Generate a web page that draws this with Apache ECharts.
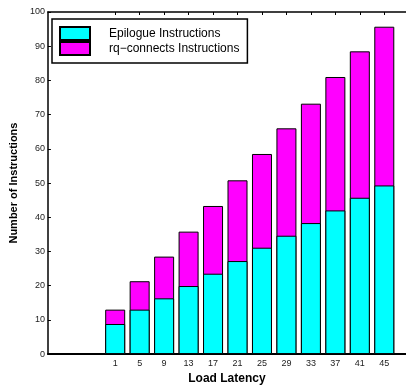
<!DOCTYPE html>
<html>
<head>
<meta charset="utf-8">
<script src="https://cdn.jsdelivr.net/npm/echarts@6/dist/echarts.min.js"></script>
<style>html,body{margin:0;padding:0;background:#fff}#c{width:406px;height:390px}</style>
</head>
<body>
<div id="c"></div>
<script>
const latencies = [1, 5, 9, 13, 17, 21, 25, 29, 33, 37, 41, 45];
const epilogue = [8.8, 13.0, 16.3, 19.9, 23.5, 27.2, 31.1, 34.6, 38.3, 42.0, 45.7, 49.3];
const rqConnects = [4.2, 8.3, 12.2, 15.9, 19.8, 23.6, 27.4, 31.4, 34.9, 39.0, 42.8, 46.4];
const yTicks = [0, 10, 20, 30, 40, 50, 60, 70, 80, 90, 100];

const FONT = 'Liberation Sans, Arial, Helvetica, sans-serif';
const chart = echarts.init(document.getElementById('c'), null, {renderer: 'canvas'});
const pair = (vals) => latencies.map((x, i) => [x, vals[i]]);
// stacked top of the rq-connects segment = epilogue + rq-connects
const stackedTop = epilogue.map((v, i) => v + rqConnects[i]);

chart.setOption({
  animation: false,
  backgroundColor: '#fff',
  grid: {left: 43, top: 12, right: 0, bottom: 33},
  legend: {
    orient: 'vertical', left: 52, top: 19,
    itemGap: 0, itemWidth: 30, itemHeight: 13,
    padding: [7, 8, 7, 7],
    borderColor: '#000', borderWidth: 1.5,
    icon: 'rect',
    textStyle: {fontFamily: FONT, fontSize: 12, color: '#000', padding: [0, 0, 0, 14]},
    data: ['Epilogue Instructions', 'rq\u2212connects Instructions']
  },
  xAxis: [{
    type: 'value', min: -10, max: 48.55, position: 'bottom',
    name: 'Load Latency', nameLocation: 'middle', nameGap: 14,
    nameTextStyle: {fontFamily: FONT, fontSize: 12, fontWeight: 'bold', color: '#000'},
    axisLine: {show: true, onZero: false, lineStyle: {color: '#000', width: 2}},
    axisTick: {show: true, inside: true, length: 3, customValues: latencies, lineStyle: {color: '#000'}},
    axisLabel: {customValues: latencies, fontFamily: FONT, fontSize: 9, color: '#222', margin: 5},
    splitLine: {show: false}
  }, {
    type: 'value', min: -10, max: 48.55, position: 'top',
    axisLine: {show: true, onZero: false, lineStyle: {color: '#000', width: 1.5}},
    axisTick: {show: true, inside: true, length: 3, customValues: latencies, lineStyle: {color: '#000'}},
    axisLabel: {show: false},
    splitLine: {show: false}
  }],
  yAxis: {
    type: 'value', min: 0, max: 100, interval: 10,
    name: 'Number of Instructions', nameLocation: 'middle', nameGap: 19, nameRotate: 90,
    nameTextStyle: {fontFamily: FONT, fontSize: 11, fontWeight: 'bold', color: '#000'},
    axisLine: {show: true, onZero: false, lineStyle: {color: '#000', width: 1.5}},
    axisTick: {show: true, inside: true, length: 3, lineStyle: {color: '#000'}},
    axisLabel: {fontFamily: FONT, fontSize: 9, color: '#222', margin: 3},
    splitLine: {show: false}
  },
  series: [{
    name: 'rq\u2212connects Instructions', type: 'bar', barWidth: 20, barGap: '-100%',
    itemStyle: {color: '#ff00ff', borderColor: '#000', borderWidth: 1},
    data: pair(stackedTop)
  }, {
    name: 'Epilogue Instructions', type: 'bar', barWidth: 20, barGap: '-100%',
    itemStyle: {color: '#00ffff', borderColor: '#000', borderWidth: 1},
    data: pair(epilogue)
  }]
});
</script>
</body>
</html>
